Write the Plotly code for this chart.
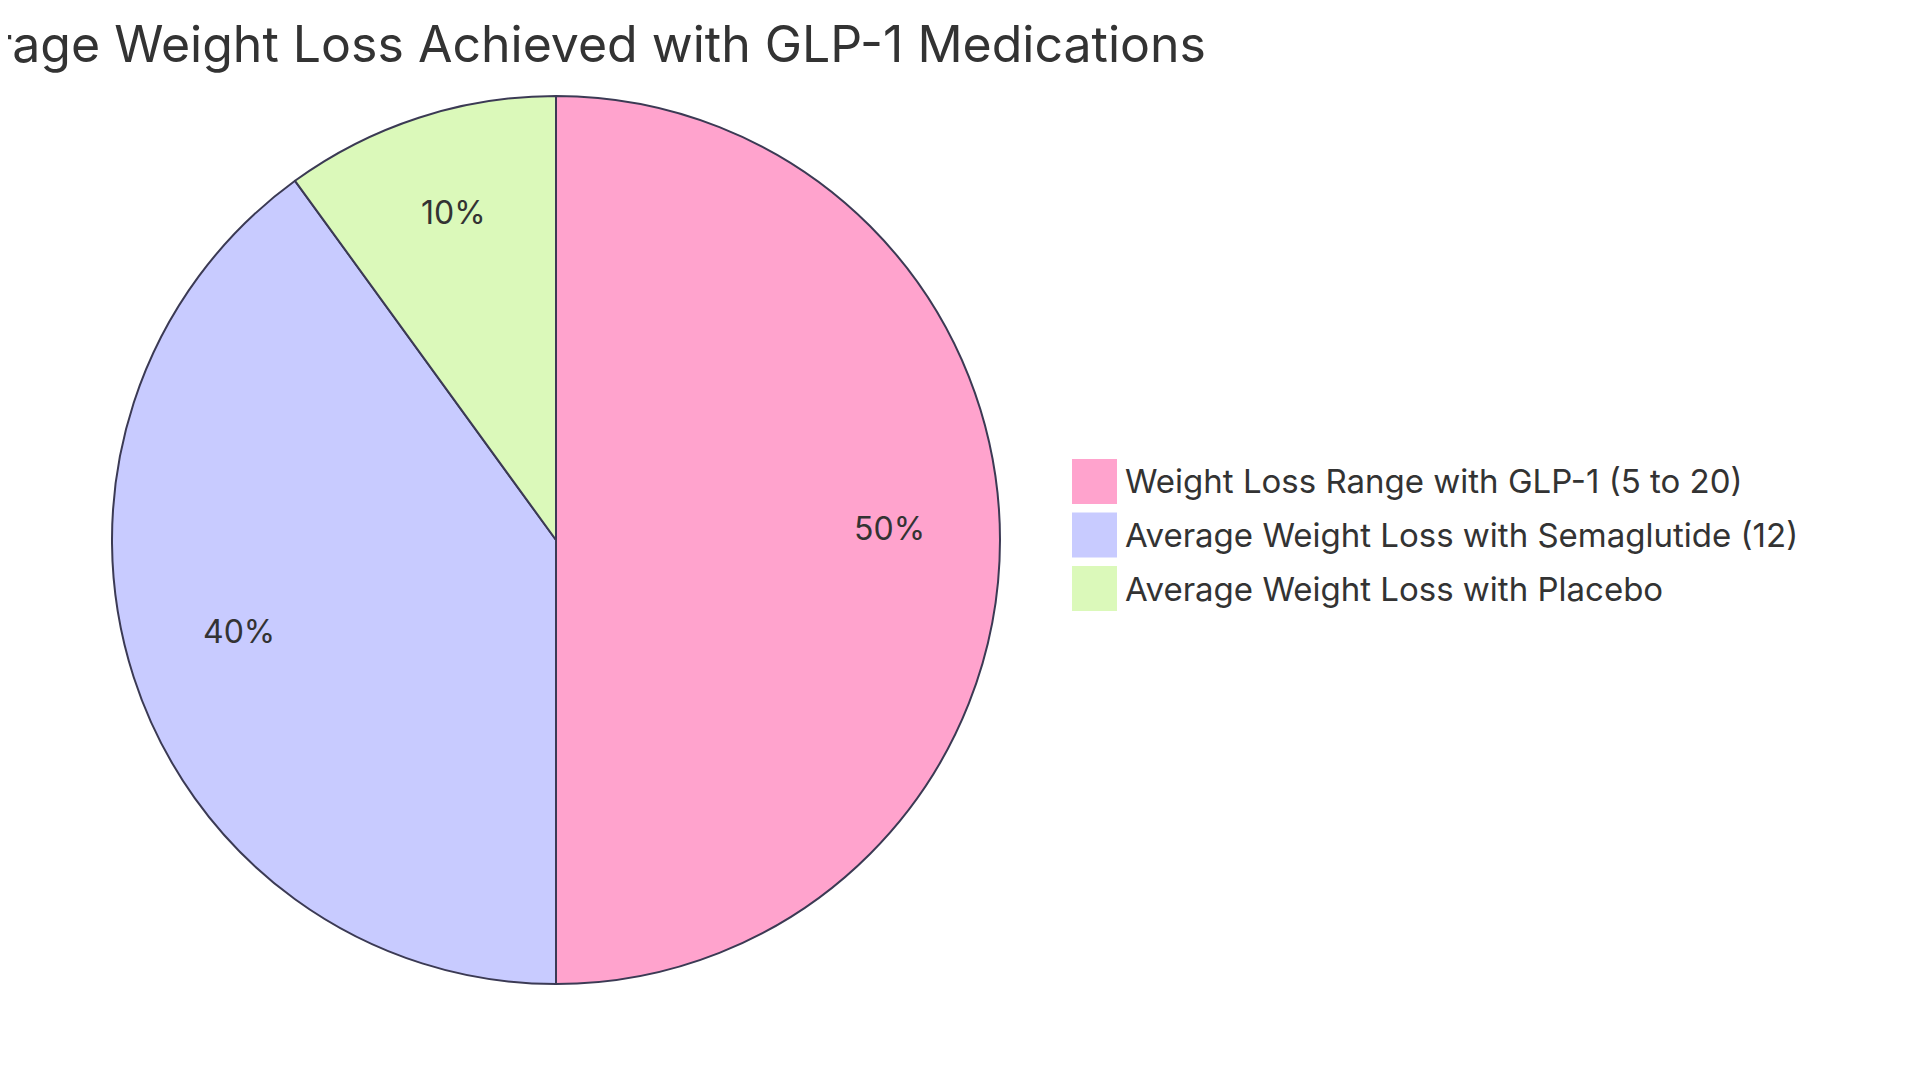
import plotly.graph_objects as go
import math

# 데이터
labels = [
    "Weight Loss Range with GLP-1 (5 to 20)",
    "Average Weight Loss with Semaglutide (12)",
    "Average Weight Loss with Placebo",
]
values = [15, 12, 3]
colors = ["#FFA3CD", "#C8CBFF", "#DBF9BA"]
title_text = "Average Weight Loss Achieved with GLP-1 Medications"

W, H = 1920, 1083
FONT = "Inter"
TEXT_COLOR = "#333333"
STROKE = "#3B3A54"

# 파이 위치 (픽셀 기준)
cx, cy, r = 548, 532, 444

fig = go.Figure(go.Pie(
    labels=labels,
    values=values,
    sort=False,
    direction="clockwise",
    rotation=0,
    textinfo="none",
    hoverinfo="label+percent",
    showlegend=False,
    marker=dict(colors=colors, line=dict(color=STROKE, width=2)),
    domain=dict(x=[(cx - r) / W, (cx + r) / W],
                y=[(H - cy - r) / H, (H - cy + r) / H]),
))

# 조각 퍼센트 라벨 (반지름 0.75 지점)
total = sum(values)
cum = 0
annotations = []
for v in values:
    theta = 2 * math.pi * (cum + v / 2) / total
    cum += v
    px_x = cx + 0.75 * r * math.sin(theta)
    px_y = cy - 0.75 * r * math.cos(theta) - 11
    annotations.append(dict(
        x=px_x / W, y=1 - px_y / H, xref="paper", yref="paper",
        text=f"{round(100 * v / total)}%", showarrow=False,
        xanchor="center", yanchor="middle",
        font=dict(family=FONT, size=32, color=TEXT_COLOR),
    ))

# 범례 (큰 사각형)
shapes = []
leg_x, leg_top, box, step = 1064, 451, 45, 53.5
for i, (lab, col) in enumerate(zip(labels, colors)):
    top = leg_top + step * i
    shapes.append(dict(
        type="rect", xref="paper", yref="paper",
        x0=leg_x / W, x1=(leg_x + box) / W,
        y0=1 - (top + box) / H, y1=1 - top / H,
        fillcolor=col, line=dict(width=0),
    ))
    annotations.append(dict(
        x=(leg_x + box + 6) / W, y=1 - (top + box / 2) / H,
        xref="paper", yref="paper", text=lab, showarrow=False,
        xanchor="left", yanchor="middle",
        font=dict(family=FONT, size=33, color=TEXT_COLOR),
    ))

fig.update_layout(
    width=W, height=H,
    margin=dict(l=0, r=0, t=0, b=0),
    paper_bgcolor="white",
    plot_bgcolor="white",
    title=dict(
        text=title_text, x=cx / W, xanchor="center",
        y=1 - 36 / H, yanchor="middle",
        font=dict(family=FONT, size=50, color=TEXT_COLOR),
    ),
    annotations=annotations,
    shapes=shapes,
)

fig.write_html("out.html")
